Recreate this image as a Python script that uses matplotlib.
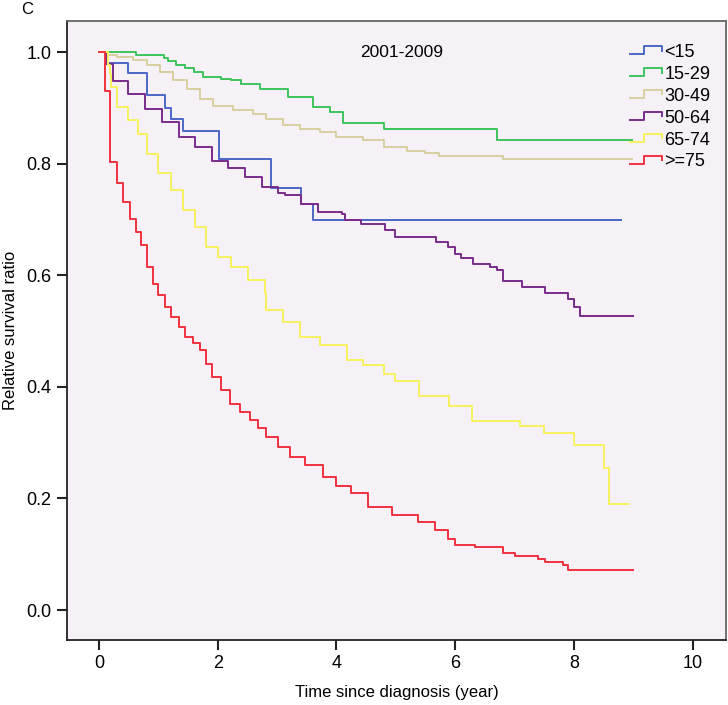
import matplotlib
matplotlib.use("Agg")
import matplotlib.pyplot as plt
from matplotlib.lines import Line2D
from matplotlib.legend_handler import HandlerBase

plt.rcParams['font.family'] = ['Liberation Sans', 'DejaVu Sans']

labels = ['<15', '15-29', '30-49', '50-64', '65-74', '>=75']
colors = ['#4C68C6', '#3DC35A', '#D9D0A0', '#7A2C8C', '#F7F25E', '#F0303F']

t_lt15 = [0, 0.13, 0.49, 0.80, 1.11, 1.21, 1.41, 2.02, 2.90, 3.41, 3.60, 8.80]
s_lt15 = [1.0, 0.981, 0.963, 0.923, 0.900, 0.880, 0.859, 0.809, 0.757, 0.729, 0.699, 0.699]

t_15_29 = [0, 0.62, 1.10, 1.16, 1.30, 1.45, 1.60, 1.75, 2.05, 2.23, 2.40, 2.71, 3.19, 3.61, 3.89, 4.11, 4.80, 6.71, 8.98]
s_15_29 = [1.0, 0.996, 0.990, 0.985, 0.978, 0.972, 0.964, 0.956, 0.953, 0.950, 0.944, 0.935, 0.920, 0.902, 0.893, 0.874, 0.863, 0.843, 0.843]

t_30_49 = [0, 0.10, 0.30, 0.58, 0.80, 1.03, 1.25, 1.48, 1.70, 1.92, 2.26, 2.60, 2.82, 3.10, 3.38, 3.72, 4.00, 4.45, 4.80, 5.19, 5.50, 5.72, 6.81, 8.98]
s_30_49 = [1.0, 0.995, 0.992, 0.986, 0.977, 0.965, 0.950, 0.935, 0.917, 0.903, 0.896, 0.890, 0.881, 0.869, 0.863, 0.857, 0.849, 0.842, 0.830, 0.824, 0.820, 0.814, 0.808, 0.808]

t_50_64 = [0, 0.12, 0.24, 0.49, 0.77, 1.06, 1.34, 1.62, 1.90, 2.18, 2.46, 2.74, 3.02, 3.13, 3.41, 3.69, 4.09, 4.14, 4.42, 4.81, 4.98, 5.68, 5.88, 5.99, 6.10, 6.30, 6.58, 6.70, 6.81, 7.12, 7.51, 7.90, 8.01, 8.10, 9.00]
s_50_64 = [1.0, 0.980, 0.949, 0.926, 0.899, 0.875, 0.848, 0.830, 0.806, 0.792, 0.777, 0.759, 0.747, 0.744, 0.729, 0.714, 0.711, 0.700, 0.693, 0.681, 0.669, 0.660, 0.651, 0.639, 0.632, 0.620, 0.615, 0.609, 0.590, 0.579, 0.569, 0.557, 0.544, 0.527, 0.527]

t_65_74 = [0, 0.15, 0.19, 0.21, 0.30, 0.49, 0.66, 0.80, 1.00, 1.22, 1.42, 1.62, 1.81, 2.01, 2.23, 2.51, 2.79, 2.82, 3.10, 3.38, 3.72, 4.17, 4.45, 4.80, 4.99, 5.39, 5.89, 6.28, 7.10, 7.49, 8.00, 8.50, 8.60, 8.91]
s_65_74 = [1.0, 0.977, 0.962, 0.938, 0.902, 0.878, 0.854, 0.818, 0.783, 0.753, 0.717, 0.687, 0.651, 0.633, 0.615, 0.591, 0.568, 0.538, 0.517, 0.490, 0.475, 0.448, 0.439, 0.424, 0.411, 0.384, 0.366, 0.339, 0.330, 0.317, 0.296, 0.254, 0.191, 0.191]

t_ge75 = [0, 0.10, 0.19, 0.31, 0.41, 0.52, 0.62, 0.70, 0.80, 0.91, 1.00, 1.11, 1.22, 1.34, 1.45, 1.58, 1.70, 1.80, 1.90, 2.05, 2.21, 2.38, 2.54, 2.68, 2.82, 3.02, 3.22, 3.47, 3.78, 4.00, 4.25, 4.53, 4.93, 5.38, 5.66, 5.88, 5.99, 6.33, 6.81, 7.00, 7.40, 7.51, 7.82, 7.90, 9.00]
s_ge75 = [1.0, 0.930, 0.803, 0.765, 0.731, 0.701, 0.678, 0.655, 0.615, 0.585, 0.565, 0.544, 0.526, 0.508, 0.490, 0.478, 0.466, 0.442, 0.418, 0.395, 0.370, 0.355, 0.341, 0.326, 0.311, 0.293, 0.275, 0.260, 0.239, 0.222, 0.209, 0.185, 0.170, 0.157, 0.143, 0.128, 0.116, 0.113, 0.103, 0.097, 0.091, 0.087, 0.081, 0.072, 0.072]

series = [(t_lt15, s_lt15), (t_15_29, s_15_29), (t_30_49, s_30_49),
          (t_50_64, s_50_64), (t_65_74, s_65_74), (t_ge75, s_ge75)]

x_ticks = [0, 2, 4, 6, 8, 10]
y_ticks = [0.0, 0.2, 0.4, 0.6, 0.8, 1.0]


class StepHandler(HandlerBase):
    def create_artists(self, legend, orig_handle, xdescent, ydescent,
                       width, height, fontsize, trans):
        x0, y0 = -xdescent, -ydescent
        xs = [x0, x0 + 0.42 * width, x0 + 0.42 * width, x0 + width, x0 + width]
        ys = [y0 + 0.22 * height, y0 + 0.22 * height, y0 + 0.85 * height,
              y0 + 0.85 * height, y0 + 0.5 * height]
        ln = Line2D(xs, ys, color=orig_handle.get_color(), lw=1.4,
                    transform=trans)
        return [ln]


fig = plt.figure(figsize=(7.28, 7.05), dpi=100)
ax = fig.add_axes([0.092, 0.092, 0.905, 0.878])
ax.set_facecolor('#F6F1F6')

handles = []
for (t, s), c, lab in zip(series, colors, labels):
    ln, = ax.step(t, s, where='post', color=c, lw=1.4, label=lab)
    handles.append(ln)

ax.set_xlim(-0.54, 10.56)
ax.set_ylim(-0.054, 1.056)
ax.set_xticks(x_ticks)
ax.set_xticklabels([str(v) for v in x_ticks])
ax.set_yticks(y_ticks)
ax.set_yticklabels([f'{v:.1f}' for v in y_ticks])

for lbl in ax.get_xticklabels() + ax.get_yticklabels():
    lbl.set_fontsize(13)
ax.tick_params(direction='out', length=7, width=1.5, color='#222222', pad=4)

for sp in ax.spines.values():
    sp.set_linewidth(1.3)
    sp.set_color('#222222')
ax.spines['top'].set_color('#666666')
ax.spines['right'].set_color('#666666')

ax.set_xlabel('Time since diagnosis (year)', fontsize=12, labelpad=9)
ax.set_ylabel('Relative survival ratio', fontsize=12, labelpad=6)

ax.text(0.508, 0.95, '2001-2009', transform=ax.transAxes, ha='center', va='center', fontsize=12.5)
fig.text(0.037, 0.987, 'C', ha='center', va='center', fontsize=12)

ax.legend(handles=handles, labels=labels, loc='upper left',
          bbox_to_anchor=(0.855, 0.963), frameon=False, fontsize=13,
          handler_map={Line2D: StepHandler()}, handlelength=1.75,
          handletextpad=0.15, labelspacing=0.27, borderpad=0, borderaxespad=0)

fig.savefig('out.png', dpi=100)
